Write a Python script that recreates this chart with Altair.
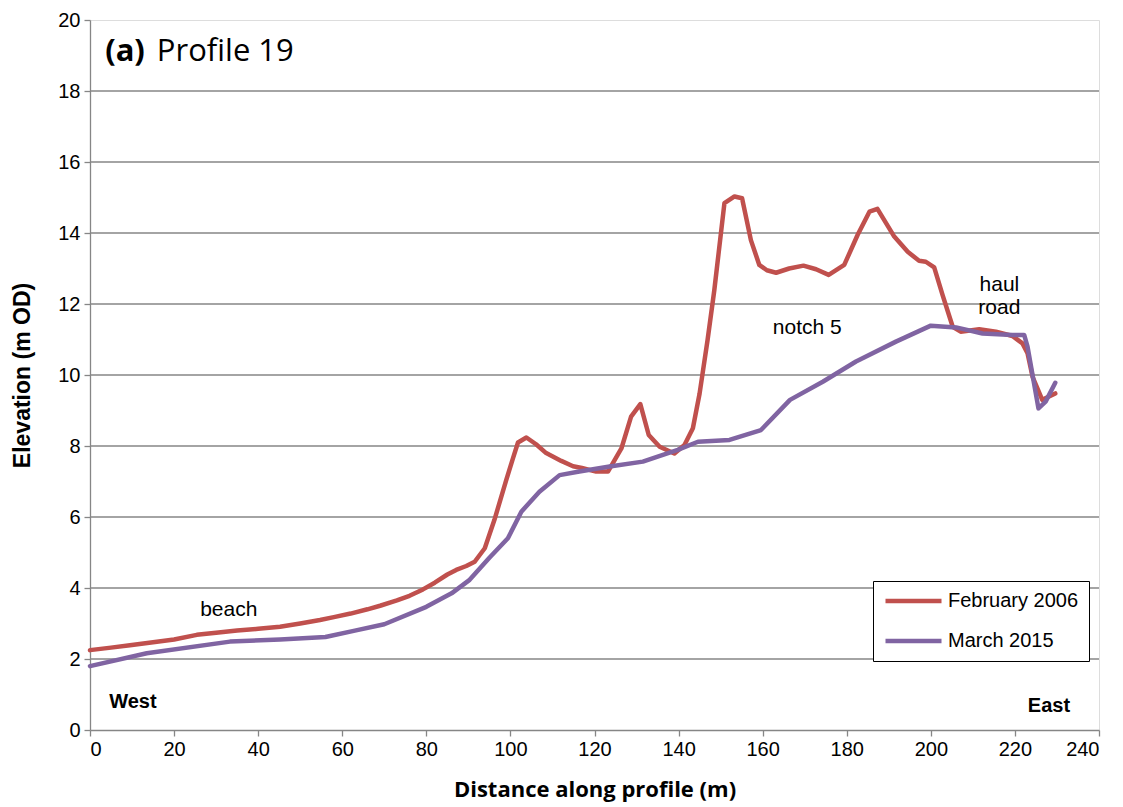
import altair as alt
import pandas as pd

# February 2006 survey
feb_x = [0, 5, 9.5, 15, 20, 25.4, 30, 35, 40, 45.2, 50, 54.7, 58, 62, 66, 69, 73, 76,
         79.2, 82, 85, 87.1, 89.5, 91.5, 93.9, 96.2, 99, 100.6, 101.8, 103.8, 106.1,
         108.5, 112.1, 114.9, 117, 120.4, 123.2, 126.4, 128.7, 130.9, 132.9, 135.5,
         139, 141.4, 143.4, 145, 146.9, 148.5, 150.9, 153.3, 155.1, 157.2, 159.2, 161,
         163.2, 166.3, 169.7, 172.7, 175.7, 179.4, 182.6, 185.4, 187.3, 191.3, 194.5,
         197.2, 198.8, 200.8, 202.8, 205.2, 207.1, 211.5, 215.5, 219.4, 221.8, 223,
         224.2, 226.5, 229.6]
feb_y = [2.25, 2.32, 2.39, 2.47, 2.55, 2.68, 2.74, 2.80, 2.85, 2.91, 3.0, 3.1, 3.18,
         3.28, 3.4, 3.5, 3.65, 3.78, 3.96, 4.15, 4.38, 4.51, 4.62, 4.74, 5.12, 5.92,
         7.04, 7.65, 8.1, 8.24, 8.05, 7.8, 7.58, 7.43, 7.38, 7.28, 7.28, 7.93, 8.83,
         9.18, 8.31, 7.98, 7.79, 8.03, 8.5, 9.48, 10.99, 12.39, 14.84, 15.03, 14.98,
         13.8, 13.1, 12.95, 12.88, 13.0, 13.08, 12.98, 12.82, 13.1, 13.95, 14.6, 14.68,
         13.9, 13.47, 13.22, 13.19, 13.03, 12.25, 11.36, 11.22, 11.29, 11.22, 11.1,
         10.89, 10.61, 9.95, 9.3, 9.48]

# March 2015 survey
mar_x = [0, 13.5, 33.3, 45.2, 56, 63, 70, 80, 86, 90.3, 95, 99.4, 102.6, 106.9, 111.7,
         116.4, 123.6, 131.5, 139.8, 144.6, 152.1, 159.6, 166.5, 174.3, 182.2, 191.7,
         200, 206, 212.3, 219.4, 222.2, 223, 225.6, 227.3, 229.6]
mar_y = [1.8, 2.16, 2.49, 2.55, 2.62, 2.8, 2.98, 3.47, 3.85, 4.23, 4.85, 5.4, 6.15,
         6.71, 7.18, 7.28, 7.42, 7.56, 7.89, 8.12, 8.17, 8.45, 9.3, 9.81, 10.38, 10.94,
         11.39, 11.34, 11.17, 11.13, 11.13, 10.8, 9.06, 9.25, 9.78]

series = ["February 2006", "March 2015"]
colours = ["#C0504D", "#8064A2"]

x_ticks = list(range(0, 241, 20))
y_ticks = list(range(0, 21, 2))
grid_levels = list(range(2, 19, 2))

# Annotations in data units
notes_text = ["beach", "notch 5", "haul", "road"]
notes_x = [33, 170.6, 216.3, 216.3]
notes_y = [3.38, 11.32, 12.54, 11.89]

side_text = ["West", "East"]
side_x = [10.2, 228.1]
side_y = [0.79, 0.68]

rows = [{"d": x, "e": y, "s": series[0], "i": i} for i, (x, y) in enumerate(zip(feb_x, feb_y))]
rows += [{"d": x, "e": y, "s": series[1], "i": i} for i, (x, y) in enumerate(zip(mar_x, mar_y))]
df = pd.DataFrame(rows)

xs = alt.Scale(domain=[0, 240], nice=False, zero=False)
ys = alt.Scale(domain=[0, 20], nice=False, zero=False)

x_axis = alt.Axis(values=x_ticks, title="Distance along profile (m)", grid=False,
                  labelFont="Liberation Sans", labelFontSize=20, labelColor="black",
                  labelPadding=3, tickSize=6, tickColor="#868686", domainColor="#868686",
                  domainWidth=1.3, tickWidth=1.3,
                  titleFont="Open Sans", titleFontWeight="bold", titleFontSize=22,
                  titleColor="black", titlePadding=20)
y_axis = alt.Axis(values=y_ticks, title="Elevation (m OD)", grid=False,
                  labelFont="Liberation Sans", labelFontSize=20, labelColor="black",
                  labelPadding=4, tickSize=6, tickColor="#868686", domainColor="#868686",
                  domainWidth=1.3, tickWidth=1.3,
                  titleFont="Liberation Sans", titleFontWeight="bold", titleFontSize=23,
                  titleColor="black", titlePadding=23)

# Horizontal gridlines drawn behind the profiles, leaving the black frame on top
grid = alt.Chart(pd.DataFrame({"g": grid_levels})).mark_rule(
    color="#868686", strokeWidth=1.3).encode(y=alt.Y("g:Q", scale=ys, axis=y_axis))

lines = alt.Chart(df).mark_line(strokeWidth=4.5, strokeJoin="round", strokeCap="round").encode(
    x=alt.X("d:Q", scale=xs, axis=x_axis),
    y=alt.Y("e:Q", scale=ys, axis=y_axis),
    color=alt.Color("s:N", scale=alt.Scale(domain=series, range=colours),
                    legend=alt.Legend(title=None, orient="none", legendX=783, legendY=561,
                                      symbolType="stroke", symbolSize=3136, symbolStrokeWidth=4.5,
                                      clipHeight=20, rowPadding=20,
                                      labelFont="Liberation Sans", labelFontSize=20,
                                      labelColor="black", strokeColor="black", fillColor="white",
                                      padding=10, labelOffset=4)),
    order="i:Q",
)

notes_df = pd.DataFrame({"t": notes_text, "x": notes_x, "y": notes_y})
notes = alt.Chart(notes_df).mark_text(font="Liberation Sans", fontSize=21, color="black").encode(
    x=alt.X("x:Q", scale=xs, axis=x_axis), y=alt.Y("y:Q", scale=ys, axis=y_axis), text="t:N")

side_df = pd.DataFrame({"t": side_text, "x": side_x, "y": side_y})
side = alt.Chart(side_df).mark_text(font="Liberation Sans", fontSize=20, fontWeight="bold",
                                    color="black").encode(
    x=alt.X("x:Q", scale=xs, axis=x_axis), y=alt.Y("y:Q", scale=ys, axis=y_axis), text="t:N")

tag = alt.Chart(pd.DataFrame({"t": ["(a)"], "x": [3.6], "y": [19.1]})).mark_text(
    font="Open Sans", fontSize=31, fontWeight="bold", align="left", color="black").encode(
    x=alt.X("x:Q", scale=xs, axis=x_axis), y=alt.Y("y:Q", scale=ys, axis=y_axis), text="t:N")

name = alt.Chart(pd.DataFrame({"t": ["Profile 19"], "x": [15.9], "y": [19.1]})).mark_text(
    font="Open Sans", fontSize=31, align="left", color="black").encode(
    x=alt.X("x:Q", scale=xs, axis=x_axis), y=alt.Y("y:Q", scale=ys, axis=y_axis), text="t:N")

chart = alt.layer(grid, lines, notes, side, tag, name).properties(
    width=1009, height=710,
    autosize=alt.AutoSizeParams(type="none"),
    padding={"left": 90, "top": 20, "right": 24, "bottom": 77},
).configure_view(stroke="black", strokeWidth=1.3).configure(background="white")

chart.save("out.html", embed_options={"renderer": "svg", "actions": False})
